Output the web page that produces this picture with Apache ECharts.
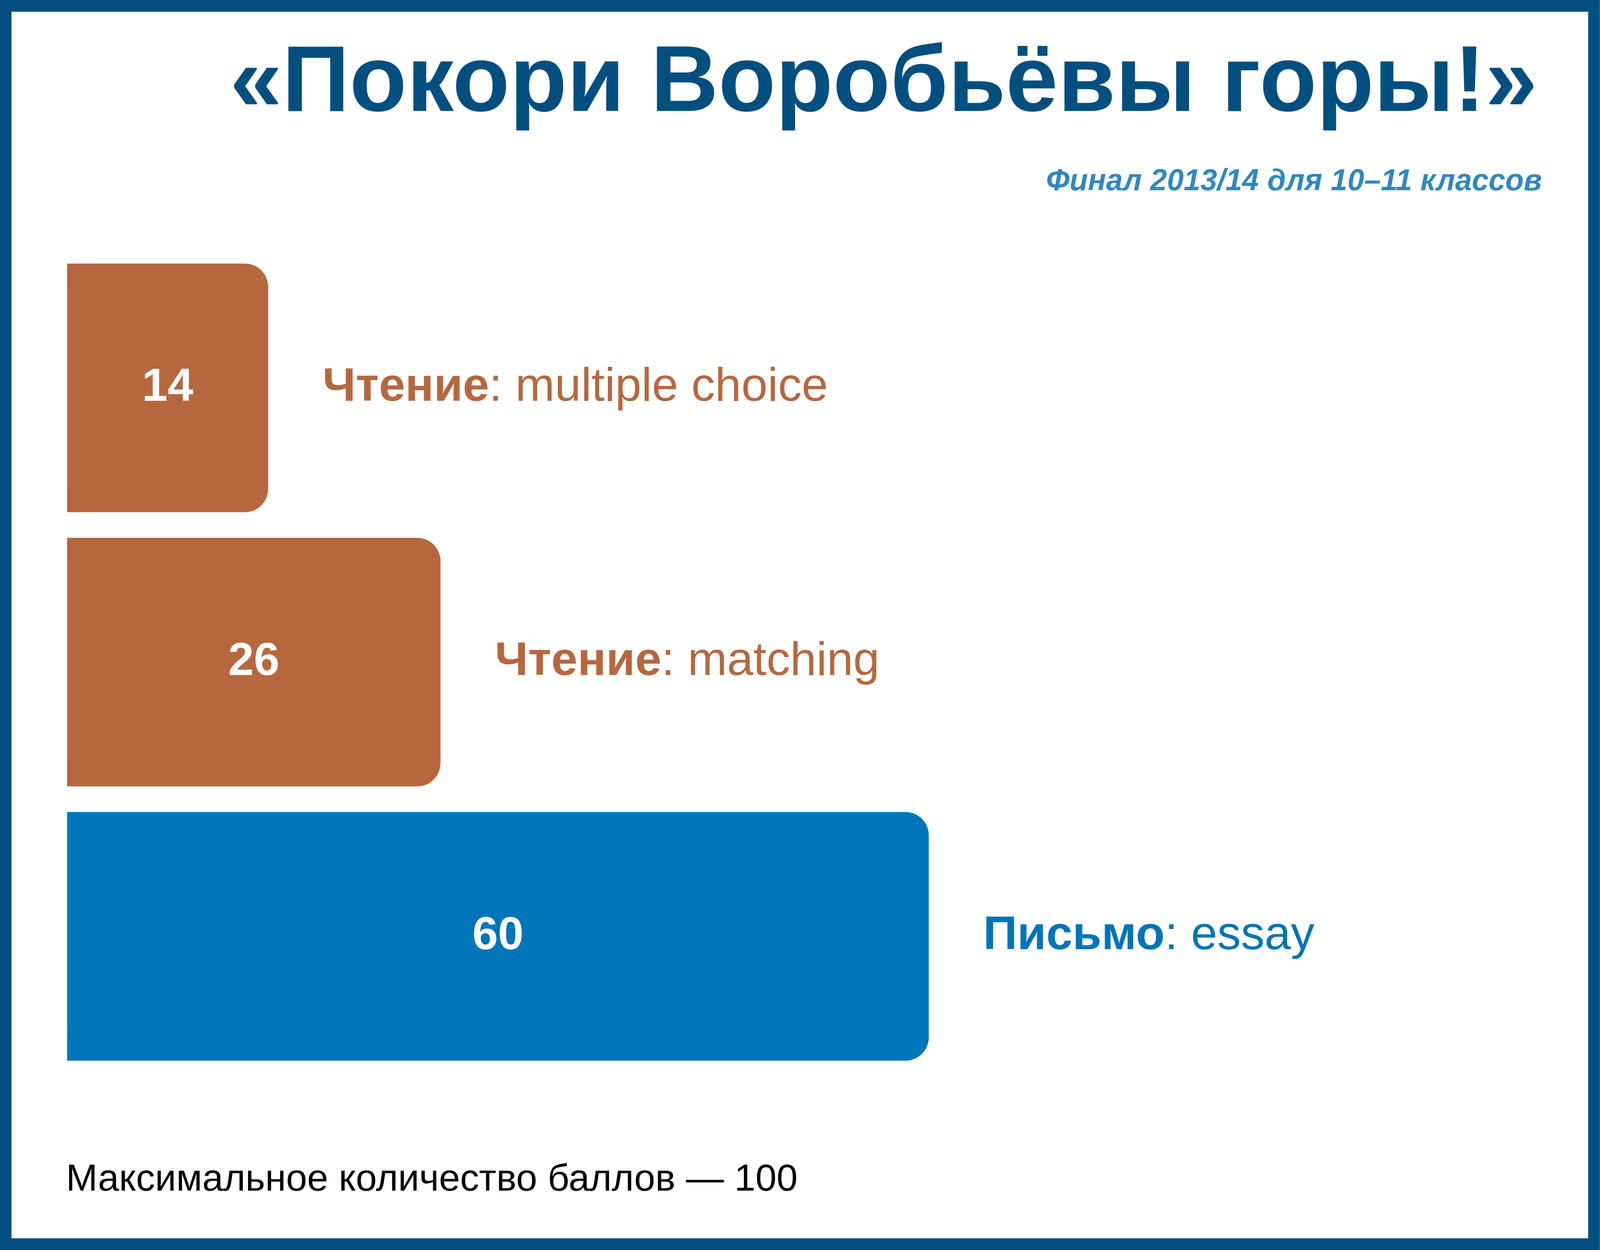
<!DOCTYPE html>
<html lang="ru">
<head>
    <meta charset="UTF-8">
    <title>Покори Воробьёвы горы!</title>
    <style>
        html, body { margin: 0; padding: 0; background: #ffffff; overflow: hidden; }
        #container { width: 100vw; height: 100vh; }
    </style>
</head>
<body>
<div id="container"></div>
<script src="https://cdn.jsdelivr.net/npm/echarts@6/dist/echarts.min.js"></script>
<script>
// данные графика
var categories = ['Чтение: multiple choice', 'Чтение: matching', 'Письмо: essay'];
var sectionNames = ['Чтение', 'Чтение', 'Письмо'];
var taskTypes = ['multiple choice', 'matching', 'essay'];
var scores = [14, 26, 60];
var maxScore = 100;

var titleText = '«Покори Воробьёвы горы!»';
var subtitleText = 'Финал 2013/14 для 10–11 классов';
var footnoteText = 'Максимальное количество баллов — 100';

// цвета по разделам
var sectionColor = {
    'Чтение': '#b7673e',
    'Письмо': '#0075b9'
};
var frameColor = '#034f80';
var fontName = '"Liberation Sans", Arial, Helvetica, sans-serif';

var chart = echarts.init(document.getElementById('container'));

// разметка задана для листа 4267x3200 и масштабируется под окно
var W = chart.getWidth(), H = chart.getHeight();
var sx = W / 4267, sy = H / 3200, sf = Math.min(sx, sy);
function X(v) { return v * sx; }
function Y(v) { return v * sy; }
function F(v) { return Math.round(v * sf); }

var barData = scores.map(function (v, i) {
    return {
        value: v,
        itemStyle: { color: sectionColor[sectionNames[i]] }
    };
});

var textData = scores.map(function (v, i) {
    return {
        value: v,
        label: { color: sectionColor[sectionNames[i]] }
    };
});

var radius = F(62);

chart.setOption({
    backgroundColor: '#ffffff',
    animation: false,
    grid: {
        left: X(179),
        top: Y(642),
        width: X(3830),
        height: Y(2106)
    },
    xAxis: {
        type: 'value',
        min: 0,
        max: maxScore,
        show: false
    },
    yAxis: {
        type: 'category',
        data: categories,
        inverse: true,
        show: false
    },
    series: [
        {
            name: 'баллы',
            type: 'bar',
            data: barData,
            barCategoryGap: '9.3%',
            itemStyle: {
                borderRadius: [0, radius, radius, 0]
            },
            label: {
                show: true,
                position: 'inside',
                color: '#ffffff',
                fontFamily: fontName,
                fontWeight: 'bold',
                fontSize: F(123)
            }
        },
        {
            name: 'подписи',
            type: 'bar',
            data: textData,
            barGap: '-100%',
            barCategoryGap: '9.3%',
            silent: true,
            itemStyle: { color: 'rgba(0,0,0,0)' },
            label: {
                show: true,
                position: 'right',
                distance: X(145),
                fontFamily: fontName,
                fontSize: F(126),
                formatter: function (p) {
                    return '{b|' + sectionNames[p.dataIndex] + '}{r|: ' + taskTypes[p.dataIndex] + '}';
                },
                rich: {
                    b: { fontFamily: fontName, fontSize: F(126), fontWeight: 'bold' },
                    r: { fontFamily: fontName, fontSize: F(126), fontWeight: 'normal' }
                }
            }
        }
    ],
    graphic: [
        {
            type: 'rect',
            shape: { x: X(15), y: Y(15), width: W - X(31), height: H - Y(30) },
            style: { fill: 'none', stroke: frameColor, lineWidth: F(31) },
            z: 100
        },
        {
            type: 'text',
            x: X(4100),
            y: Y(218),
            style: {
                text: titleText,
                fill: frameColor,
                font: 'bold ' + F(250) + 'px ' + fontName,
                align: 'right',
                verticalAlign: 'middle'
            }
        },
        {
            type: 'text',
            x: X(4112),
            y: Y(466),
            style: {
                text: subtitleText,
                fill: '#2f88c0',
                font: 'italic bold ' + F(80) + 'px ' + fontName,
                align: 'right',
                verticalAlign: 'middle'
            }
        },
        {
            type: 'text',
            x: X(176),
            y: Y(3021),
            style: {
                text: footnoteText,
                fill: '#000000',
                font: F(101) + 'px ' + fontName,
                align: 'left',
                verticalAlign: 'middle'
            }
        }
    ]
});
</script>
</body>
</html>
